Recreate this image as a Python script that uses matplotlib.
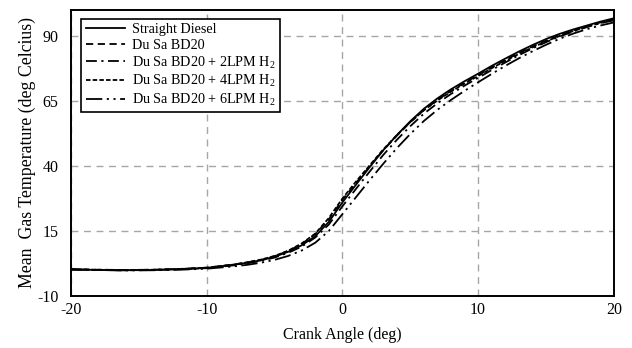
import matplotlib
matplotlib.use("Agg")
import matplotlib.pyplot as plt

# Crank angle (deg) and mean gas temperature (deg C) for each fuel case
crank = [-20, -18, -16, -14, -12, -10, -8, -7, -6, -5, -4, -3, -2, -1, 0,
         1, 2, 3, 4, 5, 6, 7, 8, 9, 10, 11, 12, 13, 14, 15, 16, 17, 18, 19, 20]

straight_diesel = [0.2, 0.0, -0.1, 0.0, 0.3, 0.8, 2.0, 2.8, 3.7, 5.1, 7.0, 9.5, 13.0, 18.5, 26.0,
                   32.8, 39.5, 46.0, 51.8, 57.2, 62.0, 66.0, 69.5, 72.6, 75.5, 78.5, 81.3, 84.0,
                   86.5, 88.8, 90.8, 92.5, 94.0, 95.5, 96.8]
bd20 = [0.3, 0.1, 0.0, 0.1, 0.4, 0.9, 2.1, 2.9, 3.9, 5.3, 7.3, 10.0, 13.8, 19.5, 27.0,
        33.5, 39.8, 46.0, 51.6, 56.8, 61.5, 65.4, 68.9, 72.0, 74.9, 77.9, 80.7, 83.4,
        85.9, 88.2, 90.3, 92.1, 93.7, 95.2, 96.4]
bd20_2lpm = [0.2, 0.0, -0.1, 0.0, 0.3, 0.7, 1.8, 2.6, 3.5, 4.8, 6.6, 9.0, 12.5, 17.5, 24.5,
             31.2, 37.8, 44.2, 50.0, 55.3, 60.1, 64.1, 67.7, 70.9, 73.9, 76.9, 79.8, 82.6,
             85.2, 87.6, 89.8, 91.7, 93.4, 94.9, 96.0]
bd20_4lpm = [0.3, 0.1, 0.0, 0.1, 0.4, 0.9, 2.1, 3.0, 4.0, 5.4, 7.4, 10.2, 14.0, 20.0, 27.5,
             34.0, 40.2, 46.3, 51.8, 56.9, 61.4, 65.2, 68.6, 71.7, 74.6, 77.6, 80.4, 83.1,
             85.6, 87.9, 90.0, 91.9, 93.5, 95.0, 96.2]
bd20_6lpm = [0.2, 0.0, -0.2, -0.1, 0.1, 0.5, 1.4, 2.0, 2.8, 3.9, 5.4, 7.5, 10.5, 15.0, 21.5,
             28.0, 34.5, 40.8, 46.8, 52.3, 57.3, 61.6, 65.4, 68.9, 72.2, 75.4, 78.5, 81.4,
             84.1, 86.6, 88.9, 90.9, 92.6, 94.0, 95.2]

labels = ["Straight Diesel", "Du Sa BD20",
          r"Du Sa BD20 + 2LPM H$_2$", r"Du Sa BD20 + 4LPM H$_2$", r"Du Sa BD20 + 6LPM H$_2$"]
x_ticks = [-20, -10, 0, 10, 20]
y_ticks = [-10, 15, 40, 65, 90]

plt.rcParams["font.family"] = ["Liberation Serif"]
plt.rcParams["mathtext.fontset"] = "custom"
plt.rcParams["mathtext.rm"] = "Liberation Serif"
plt.rcParams["axes.unicode_minus"] = False

fig = plt.figure(figsize=(6.32, 3.48), dpi=100)
ax = fig.add_axes([0.1123, 0.1494, 0.859, 0.822])

styles = ["-", (0, (4, 2.5)), (0, (6, 2.5, 1.2, 2.5)), (0, (2.5, 1.2)),
          (0, (9, 2.5, 1.2, 2.5, 1.2, 2.5))]
series = [straight_diesel, bd20, bd20_2lpm, bd20_4lpm, bd20_6lpm]
for vals, ls, lab in zip(series, styles, labels):
    ax.plot(crank, vals, color="black", linestyle=ls, linewidth=1.3, label=lab)

ax.set_xlim(-20, 20)
ax.set_ylim(-10, 100)
ax.set_xticks(x_ticks)
ax.set_yticks(y_ticks)
ax.tick_params(length=0, labelsize=11.5)
ax.tick_params(axis="x", pad=4)
ax.tick_params(axis="y", pad=9)
ax.grid(True, color="#a6a6a6", linestyle=(0, (5, 4)), linewidth=1.0)
for sp in ax.spines.values():
    sp.set_linewidth(1.4)
    sp.set_color("black")

ax.set_xlabel("Crank Angle (deg)", fontsize=11.5, labelpad=7)
ax.set_ylabel("Mean  Gas Temperature (deg Celcius)", fontsize=12.8, labelpad=1)

leg = ax.legend(loc="upper left", bbox_to_anchor=(0.019, 0.968), fontsize=10.2,
                frameon=True, fancybox=False, edgecolor="black", framealpha=1,
                handlelength=2.8, handletextpad=0.5, borderpad=0.3, labelspacing=0.17,
                borderaxespad=0)
leg.get_frame().set_linewidth(1.2)

fig.savefig("out.png", dpi=100)
